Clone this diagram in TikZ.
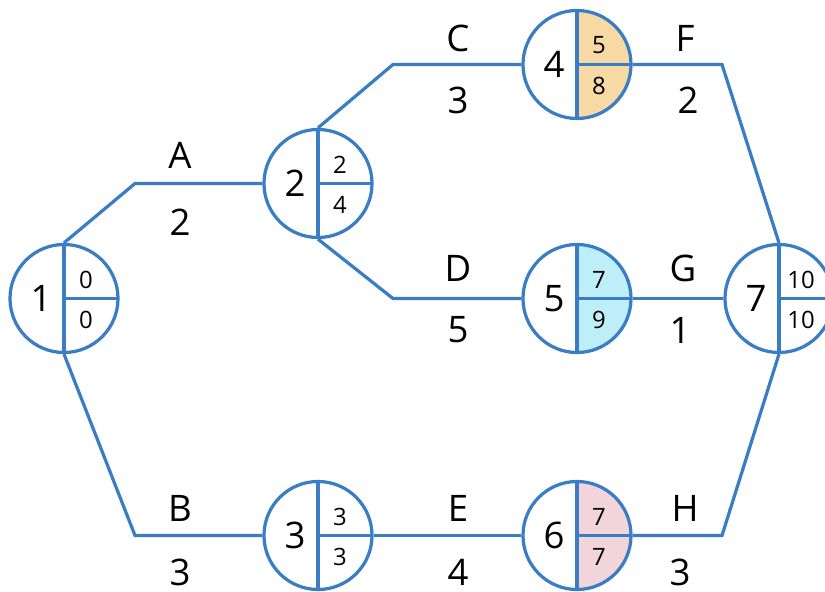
\documentclass[tikz,border=0pt]{standalone}
\usepackage{fontspec}
\setmainfont{Open Sans}
\usetikzlibrary{calc}
\definecolor{netblue}{HTML}{3A7DC4}
\definecolor{critorange}{HTML}{F7D9A3}
\definecolor{critcyan}{HTML}{BEEFF8}
\definecolor{critpink}{HTML}{F2D5DA}
\tikzset{
  event/.style={circle, draw=netblue, line width=2.3pt, minimum size=2.7cm, inner sep=0pt, fill=white,
    path picture={
      \fill[#1] (path picture bounding box.north) rectangle (path picture bounding box.south east);
      \draw[netblue, line width=2.3pt] (path picture bounding box.north) -- (path picture bounding box.south);
      \draw[netblue, line width=2.3pt] (path picture bounding box.center) -- (path picture bounding box.east);
    }},
  event/.default=white,
  act/.style={draw=netblue, line width=2.3pt},
  bignum/.style={font=\fontsize{26}{30}\selectfont},
  smallnum/.style={font=\fontsize{17}{19}\selectfont},
  actlab/.style={font=\fontsize{26}{30}\selectfont}
}
\begin{document}
\begin{tikzpicture}[x=0.025cm, y=-0.025cm]
  \useasboundingbox (0,0) rectangle (825,592);

  \foreach \n/\x/\y/\c/\e/\l in {1/64/298.5/white/0/0, 2/318/183.5/white/2/4, 3/318/535.5/white/3/3,
      4/577/64.5/critorange/5/8, 5/577/298.5/critcyan/7/9, 6/577/535.5/critpink/7/7, 7/779/298.5/white/10/10}{
    \node[event=\c] (n\n) at (\x,\y) {};
    \node[bignum] (k\n) at ($(n\n)+(-23,0)$) {\n};
    \node[smallnum] (e\n) at ($(n\n)+(22,-19)$) {\e};
    \node[smallnum] (l\n) at ($(n\n)+(22,21)$) {\l};
  }

  \coordinate (bA) at (135,183.5);
  \coordinate (bB) at (135,535.5);
  \coordinate (bC) at (393,64.5);
  \coordinate (bD) at (393,298.5);
  \coordinate (bF) at (722,64.5);
  \coordinate (bH) at (722,535.5);

  \draw[act] (n1.north) -- (bA) -- (n2.west);
  \draw[act] (n1.south) -- (bB) -- (n3.west);
  \draw[act] (n2.north) -- (bC) -- (n4.west);
  \draw[act] (n2.south) -- (bD) -- (n5.west);
  \draw[act] (n3.east) -- (n6.west);
  \draw[act] (n4.east) -- (bF) -- (n7.north);
  \draw[act] (n5.east) -- (n7.west);
  \draw[act] (n6.east) -- (bH) -- (n7.south);

  \node[actlab] (tA) at (180,155) {A};
  \node[actlab] (dA) at (180,222) {2};
  \node[actlab] (tB) at (180,508) {B};
  \node[actlab] (dB) at (180,572) {3};
  \node[actlab] (tC) at (458,38) {C};
  \node[actlab] (dC) at (458,100) {3};
  \node[actlab] (tD) at (458,268) {D};
  \node[actlab] (dD) at (458,330) {5};
  \node[actlab] (tE) at (458,508) {E};
  \node[actlab] (dE) at (458,572) {4};
  \node[actlab] (tF) at (685,38) {F};
  \node[actlab] (dF) at (688,100) {2};
  \node[actlab] (tG) at (683,268) {G};
  \node[actlab] (dG) at (680,330) {1};
  \node[actlab] (tH) at (685,508) {H};
  \node[actlab] (dH) at (680,572) {3};
\end{tikzpicture}
\end{document}
